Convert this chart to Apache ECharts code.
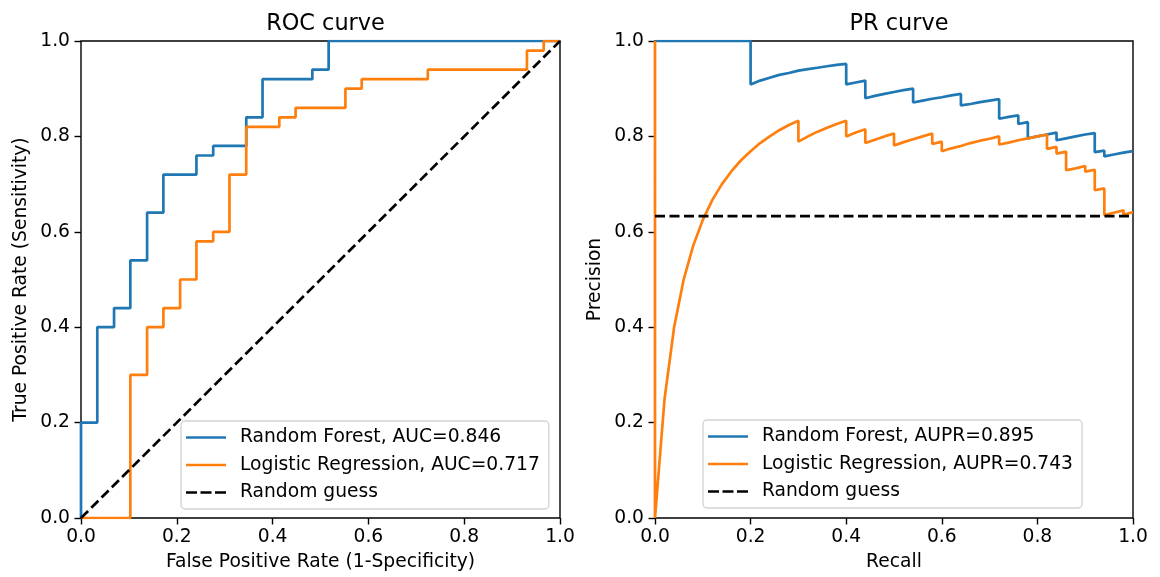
<!DOCTYPE html>
<html>
<head>
<meta charset="utf-8">
<script src="https://cdn.jsdelivr.net/npm/echarts@6/dist/echarts.min.js"></script>
<style>
  html, body { margin: 0; padding: 0; background: #fff; }
  #chart { width: 1160px; height: 577px; }
</style>
</head>
<body>
<div id="chart"></div>
<script>
// ROC corner points (fpr, tpr)
var rfFpr = [0, 0, 0.034, 0.034, 0.069, 0.069, 0.103, 0.103, 0.138, 0.138, 0.172, 0.172, 0.241, 0.241,
             0.276, 0.276, 0.345, 0.345, 0.379, 0.379, 0.483, 0.483, 0.517, 0.517, 1];
var rfTpr = [0, 0.2, 0.2, 0.4, 0.4, 0.44, 0.44, 0.54, 0.54, 0.64, 0.64, 0.72, 0.72, 0.76,
             0.76, 0.78, 0.78, 0.84, 0.84, 0.92, 0.92, 0.94, 0.94, 1, 1];
var lrFpr = [0, 0.103, 0.103, 0.138, 0.138, 0.172, 0.172, 0.207, 0.207, 0.241, 0.241, 0.276, 0.276, 0.310,
             0.310, 0.345, 0.345, 0.414, 0.414, 0.448, 0.448, 0.552, 0.552, 0.586, 0.586, 0.724, 0.724,
             0.931, 0.931, 0.966, 0.966, 1];
var lrTpr = [0, 0, 0.3, 0.3, 0.4, 0.4, 0.44, 0.44, 0.5, 0.5, 0.58, 0.58, 0.6, 0.6,
             0.72, 0.72, 0.82, 0.82, 0.84, 0.84, 0.86, 0.86, 0.9, 0.9, 0.92, 0.92, 0.94,
             0.94, 0.98, 0.98, 1, 1];

// PR points (recall, precision)
var rfRecall = [0, 0.02, 0.04, 0.06, 0.08, 0.1, 0.12, 0.14, 0.16, 0.18, 0.2,
                0.2, 0.22, 0.24, 0.26, 0.28, 0.3, 0.32, 0.34, 0.36, 0.38, 0.4,
                0.4, 0.42, 0.44,
                0.44, 0.46, 0.48, 0.5, 0.52, 0.54,
                0.54, 0.56, 0.58, 0.6, 0.62, 0.64,
                0.64, 0.66, 0.68, 0.7, 0.72,
                0.72, 0.72, 0.74, 0.76,
                0.76, 0.78,
                0.78, 0.78, 0.8, 0.82, 0.84,
                0.84, 0.86, 0.88, 0.9, 0.92,
                0.92, 0.92, 0.92, 0.94,
                0.94, 0.96, 0.98, 1];
var rfPrecision = [1, 1, 1, 1, 1, 1, 1, 1, 1, 1, 1,
                   0.909, 0.917, 0.923, 0.929, 0.933, 0.938, 0.941, 0.944, 0.947, 0.95, 0.952,
                   0.909, 0.913, 0.917,
                   0.88, 0.885, 0.889, 0.893, 0.897, 0.9,
                   0.871, 0.875, 0.879, 0.882, 0.886, 0.889,
                   0.865, 0.868, 0.872, 0.875, 0.878,
                   0.857, 0.837, 0.841, 0.844,
                   0.826, 0.83,
                   0.813, 0.796, 0.8, 0.804, 0.808,
                   0.792, 0.796, 0.8, 0.804, 0.807,
                   0.793, 0.78, 0.767, 0.77,
                   0.758, 0.762, 0.766, 0.769];
var lrRecall = [0, 0,
                0.02, 0.04, 0.06, 0.08, 0.1, 0.12, 0.14, 0.16, 0.18, 0.2, 0.22, 0.24, 0.26, 0.28, 0.3,
                0.3, 0.32, 0.34, 0.36, 0.38, 0.4,
                0.4, 0.42, 0.44,
                0.44, 0.46, 0.48, 0.5,
                0.5, 0.52, 0.54, 0.56, 0.58,
                0.58, 0.6,
                0.6, 0.62, 0.64, 0.66, 0.68, 0.7, 0.72,
                0.72, 0.74, 0.76, 0.78, 0.8, 0.82,
                0.82, 0.82, 0.84,
                0.84, 0.86,
                0.86, 0.86, 0.86, 0.88, 0.9,
                0.9, 0.92,
                0.92, 0.92, 0.92, 0.92, 0.94,
                0.94, 0.94, 0.94, 0.94, 0.94, 0.94, 0.96, 0.98,
                0.98, 1];
var lrPrecision = [1, 0,
                   0.25, 0.4, 0.5, 0.571, 0.625, 0.667, 0.7, 0.727, 0.75, 0.769, 0.786, 0.8, 0.813, 0.824, 0.833,
                   0.789, 0.8, 0.81, 0.818, 0.826, 0.833,
                   0.8, 0.808, 0.815,
                   0.786, 0.793, 0.8, 0.806,
                   0.781, 0.788, 0.794, 0.8, 0.806,
                   0.784, 0.789,
                   0.769, 0.775, 0.78, 0.786, 0.791, 0.795, 0.8,
                   0.783, 0.787, 0.792, 0.796, 0.8, 0.804,
                   0.788, 0.774, 0.778,
                   0.764, 0.768,
                   0.754, 0.741, 0.729, 0.733, 0.738,
                   0.726, 0.73,
                   0.719, 0.708, 0.697, 0.687, 0.691,
                   0.681, 0.671, 0.662, 0.653, 0.644, 0.635, 0.64, 0.645,
                   0.636, 0.641];

var guessRoc = [0, 1];
var baseline = 0.633;

var rocNames = ["Random Forest, AUC=0.846", "Logistic Regression, AUC=0.717", "Random guess"];
var prNames = ["Random Forest, AUPR=0.895", "Logistic Regression, AUPR=0.743", "Random guess"];

var FONT = "DejaVu Sans";
var FS = 18.7;
var BLUE = "#1f77b4", ORANGE = "#ff7f0e";
var DASH_ICON = "path://M0,0h11v2.6h-11z M14.5,0h11v2.6h-11z M29,0h11v2.6h-11z";

var zip = function(a, b) {
    for (var n = [], i = 0; i < a.length; i++) n.push([a[i], b[i]]);
    return n;
};

var axis = function(idx, name, gap, isY) {
    return {
        type: "value",
        gridIndex: idx,
        min: 0,
        max: 1,
        interval: 0.2,
        name: name,
        nameLocation: "middle",
        nameGap: gap,
        nameTextStyle: { fontFamily: FONT, fontSize: FS, color: "#000" },
        axisLine: { show: false },
        axisTick: { show: true, length: 6.5, lineStyle: { color: "#000", width: 1.4 } },
        axisLabel: {
            fontFamily: FONT, fontSize: FS, color: "#000",
            margin: isY ? 11 : 10,
            formatter: function(v) { return v.toFixed(1); }
        },
        splitLine: { show: false }
    };
};

var legend = function(left, top, names) {
    return {
        orient: "vertical",
        left: left,
        top: top,
        data: [
            { name: names[0], icon: "rect" },
            { name: names[1], icon: "rect" },
            { name: names[2], icon: DASH_ICON }
        ],
        itemWidth: 40,
        itemHeight: 2.6,
        itemGap: 5.5,
        symbolKeepAspect: false,
        padding: [5.5, 9, 5.5, 5],
        backgroundColor: "rgba(255,255,255,0.8)",
        borderColor: "#d4d4d4",
        borderWidth: 1.4,
        borderRadius: 4,
        selectedMode: false,
        textStyle: { fontFamily: FONT, fontSize: FS, color: "#000", lineHeight: 22, padding: [0, 0, 0, 9] }
    };
};

var line = function(name, xi, data, color, dashed) {
    return {
        name: name,
        type: "line",
        xAxisIndex: xi,
        yAxisIndex: xi,
        data: data,
        symbol: "none",
        animation: false,
        lineStyle: { color: color, width: 2.7, type: dashed ? [10, 4.5] : "solid" },
        itemStyle: { color: color }
    };
};

var F = echarts.init(document.getElementById("chart"));
F.setOption({
    backgroundColor: "#fff",
    animation: false,
    title: [{
        text: "ROC curve", left: 320.5, top: 8, textAlign: "center",
        textStyle: { fontFamily: FONT, fontSize: 22.4, fontWeight: "normal", color: "#000" }
    }, {
        text: "PR curve", left: 894, top: 8, textAlign: "center",
        textStyle: { fontFamily: FONT, fontSize: 22.4, fontWeight: "normal", color: "#000" }
    }],
    legend: [legend(181, 421, rocNames), legend(703, 420, prNames)],
    grid: [
        { left: 81, top: 41, width: 479, height: 477, show: true, borderColor: "#000", borderWidth: 1.4, backgroundColor: "transparent" },
        { left: 655, top: 41, width: 478, height: 477, show: true, borderColor: "#000", borderWidth: 1.4, backgroundColor: "transparent" }
    ],
    xAxis: [axis(0, "False Positive Rate (1-Specificity)", 35, false), axis(1, "Recall", 35, false)],
    yAxis: [axis(0, "True Positive Rate (Sensitivity)", 50, true), axis(1, "Precision", 50, true)],
    series: [
        line(rocNames[0], 0, zip(rfFpr, rfTpr), BLUE),
        line(rocNames[1], 0, zip(lrFpr, lrTpr), ORANGE),
        line(rocNames[2], 0, zip(guessRoc, guessRoc), "#000", true),
        line(prNames[0], 1, zip(rfRecall, rfPrecision), BLUE),
        line(prNames[1], 1, zip(lrRecall, lrPrecision), ORANGE),
        line(prNames[2], 1, zip([0, 1], [baseline, baseline]), "#000", true)
    ]
});
</script>
</body>
</html>
